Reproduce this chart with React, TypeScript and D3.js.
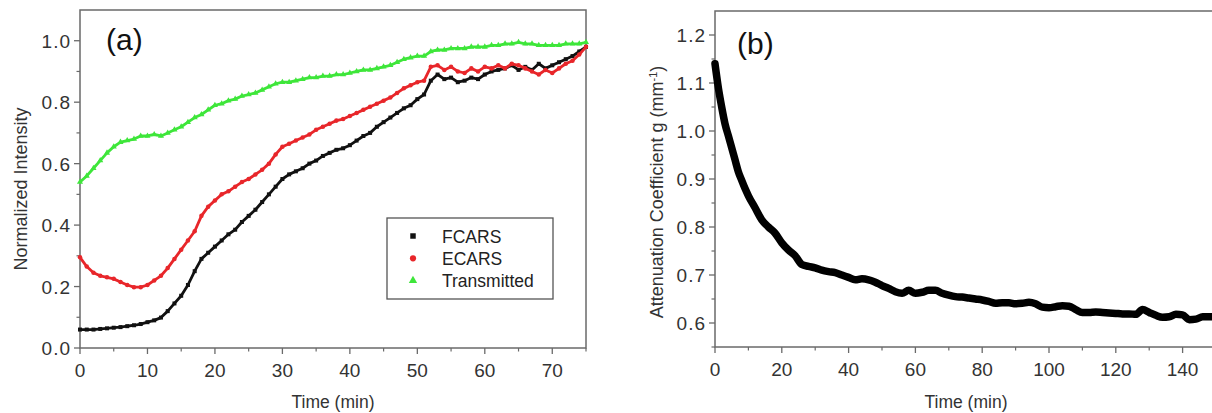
import React from "react";
import * as d3 from "d3";

// panel (a): time in minutes, one sample per minute
const timeA = [
  0, 1, 2, 3, 4, 5, 6, 7, 8, 9, 10, 11, 12, 13, 14, 15, 16, 17, 18, 19,
  20, 21, 22, 23, 24, 25, 26, 27, 28, 29, 30, 31, 32, 33, 34, 35, 36, 37, 38, 39,
  40, 41, 42, 43, 44, 45, 46, 47, 48, 49, 50, 51, 52, 53, 54, 55, 56, 57, 58, 59,
  60, 61, 62, 63, 64, 65, 66, 67, 68, 69, 70, 71, 72, 73, 74, 75,
];

const fcars = [
  0.06, 0.06, 0.06, 0.062, 0.064, 0.066, 0.068, 0.071, 0.074, 0.078, 0.084, 0.09, 0.099, 0.12, 0.145, 0.17, 0.205, 0.25, 0.29, 0.31,
  0.33, 0.35, 0.37, 0.385, 0.41, 0.43, 0.45, 0.475, 0.5, 0.525, 0.55, 0.565, 0.575, 0.585, 0.6, 0.61, 0.625, 0.635, 0.645, 0.65,
  0.66, 0.675, 0.69, 0.7, 0.72, 0.735, 0.75, 0.765, 0.78, 0.79, 0.81, 0.825, 0.87, 0.89, 0.875, 0.88, 0.865, 0.87, 0.88, 0.875,
  0.89, 0.9, 0.905, 0.91, 0.92, 0.905, 0.915, 0.905, 0.925, 0.91, 0.92, 0.93, 0.94, 0.95, 0.965, 0.98,
];

const ecars = [
  0.295, 0.265, 0.245, 0.235, 0.23, 0.225, 0.215, 0.205, 0.198, 0.198, 0.205, 0.22, 0.235, 0.26, 0.29, 0.32, 0.35, 0.38, 0.43, 0.46,
  0.48, 0.5, 0.51, 0.525, 0.54, 0.55, 0.565, 0.58, 0.6, 0.63, 0.655, 0.665, 0.675, 0.685, 0.695, 0.71, 0.72, 0.73, 0.74, 0.745,
  0.755, 0.765, 0.775, 0.785, 0.795, 0.805, 0.815, 0.83, 0.845, 0.855, 0.865, 0.87, 0.915, 0.92, 0.905, 0.915, 0.9, 0.895, 0.91, 0.9,
  0.915, 0.91, 0.92, 0.91, 0.925, 0.92, 0.91, 0.9, 0.89, 0.905, 0.895, 0.91, 0.925, 0.935, 0.955, 0.98,
];

const transmitted = [
  0.54, 0.56, 0.585, 0.61, 0.635, 0.655, 0.67, 0.675, 0.68, 0.69, 0.69, 0.695, 0.69, 0.7, 0.71, 0.72, 0.735, 0.75, 0.76, 0.775,
  0.79, 0.795, 0.805, 0.81, 0.82, 0.825, 0.83, 0.84, 0.85, 0.86, 0.865, 0.865, 0.87, 0.875, 0.88, 0.88, 0.885, 0.885, 0.89, 0.89,
  0.895, 0.9, 0.905, 0.905, 0.91, 0.915, 0.92, 0.93, 0.94, 0.945, 0.95, 0.95, 0.965, 0.97, 0.97, 0.975, 0.975, 0.975, 0.98, 0.98,
  0.98, 0.985, 0.985, 0.99, 0.99, 0.995, 0.99, 0.99, 0.985, 0.985, 0.985, 0.985, 0.99, 0.99, 0.99, 0.995,
];

// panel (b): attenuation coefficient
const timeB = [
  0, 1, 2, 3, 4, 5, 6, 7, 8, 9, 10, 12, 14, 16, 18, 20, 22, 24, 26, 28,
  30, 32, 34, 36, 38, 40, 42, 44, 46, 48, 50, 52, 54, 56, 58, 60, 62, 64, 66, 68,
  70, 72, 74, 76, 78, 80, 82, 84, 86, 88, 90, 92, 94, 96, 98, 100, 102, 104, 106, 108,
  110, 112, 114, 116, 118, 120, 122, 124, 126, 128, 130, 132, 134, 136, 138, 140, 142, 144, 146, 148, 150,
];

const attenuation = [
  1.14, 1.09, 1.05, 1.015, 0.99, 0.965, 0.94, 0.915, 0.897, 0.88, 0.865, 0.84, 0.815, 0.8, 0.787, 0.767, 0.752, 0.74, 0.722, 0.718,
  0.715, 0.71, 0.707, 0.705, 0.7, 0.695, 0.69, 0.692, 0.69, 0.685, 0.678, 0.672, 0.665, 0.662, 0.668, 0.662, 0.664, 0.668, 0.668, 0.662,
  0.658, 0.655, 0.654, 0.652, 0.65, 0.648, 0.645, 0.641, 0.642, 0.642, 0.64, 0.641, 0.643, 0.64, 0.633, 0.632, 0.634, 0.636, 0.635, 0.628,
  0.622, 0.622, 0.623, 0.622, 0.621, 0.62, 0.619, 0.619, 0.618, 0.628, 0.622, 0.616, 0.612, 0.613, 0.618, 0.617, 0.607, 0.608, 0.613, 0.613, 0.613,
];

const seriesA = [
  { name: "FCARS", values: fcars, color: "#111111", symbol: d3.symbolSquare },
  { name: "ECARS", values: ecars, color: "#e8262a", symbol: d3.symbolCircle },
  { name: "Transmitted", values: transmitted, color: "#3ee63a", symbol: d3.symbolTriangle },
];

const W = 1212;
const H = 413;
const FONT = "'Liberation Sans', Arial, Helvetica, sans-serif";
const AXIS = "#6a6a6a";
const TEXT = "#333333";

const Frame = ({ x, y, xMajor, xMinor, yMajor, yMinor, yFmt }) => {
  const [x0, x1] = x.range();
  const [y0, y1] = y.range();
  return (
    <g>
      <rect x={x0} y={y1} width={x1 - x0} height={y0 - y1} fill="none" stroke={AXIS} strokeWidth={1.5} />
      {xMajor.map((t) => (
        <g key={"xM" + t}>
          <line x1={x(t)} x2={x(t)} y1={y0} y2={y0 + 6} stroke={AXIS} strokeWidth={1.3} />
          <text x={x(t)} y={y0 + 29} textAnchor="middle" fontSize={19} fill={TEXT}>{t}</text>
        </g>
      ))}
      {xMinor.map((t) => (
        <line key={"xm" + t} x1={x(t)} x2={x(t)} y1={y0} y2={y0 + 3.5} stroke={AXIS} strokeWidth={1.2} />
      ))}
      {yMajor.map((v) => (
        <g key={"yM" + v}>
          <line x1={x0 - 6} x2={x0} y1={y(v)} y2={y(v)} stroke={AXIS} strokeWidth={1.3} />
          <text x={x0 - 9} y={y(v) + 7} textAnchor="end" fontSize={19} letterSpacing={1} fill={TEXT}>{yFmt(v)}</text>
        </g>
      ))}
      {yMinor.map((v) => (
        <line key={"ym" + v} x1={x0 - 3.5} x2={x0} y1={y(v)} y2={y(v)} stroke={AXIS} strokeWidth={1.2} />
      ))}
    </g>
  );
};

export default function App() {
  // panel (a)
  const xA = d3.scaleLinear().domain([0, 75]).range([80, 586]);
  const yA = d3.scaleLinear().domain([0, 1.1]).range([348, 10]);
  // panel (b)
  const xB = d3.scaleLinear().domain([0, 150]).range([715, 1216]);
  const yB = d3.scaleLinear().domain([0.55, 1.25]).range([347, 11]);

  const fmt1 = d3.format(".1f");

  const lineA = (vals) =>
    d3.line().x((_, i) => xA(timeA[i])).y((d) => yA(d))(vals);
  const lineB = d3.line().x((_, i) => xB(timeB[i])).y((d) => yB(d)).curve(d3.curveMonotoneX)(attenuation);

  return (
    <svg width={W} height={H} style={{ position: "absolute", left: 0, top: 0, background: "#fff" }} fontFamily={FONT}>
      <rect width={W} height={H} fill="#fff" />

      {/* ---------- panel (a) ---------- */}
      <Frame
        x={xA}
        y={yA}
        xMajor={d3.range(0, 71, 10)}
        xMinor={d3.range(5, 76, 10)}
        yMajor={[0, 0.2, 0.4, 0.6, 0.8, 1.0]}
        yMinor={[0.1, 0.3, 0.5, 0.7, 0.9]}
        yFmt={fmt1}
      />
      <g>
        {seriesA.map((s) => (
          <g key={s.name}>
            <path d={lineA(s.values)} fill="none" stroke={s.color} strokeWidth={2.8} strokeLinejoin="round" />
            {s.values.map((v, i) => (
              <path
                key={i}
                transform={`translate(${xA(timeA[i])},${yA(v)})`}
                d={d3.symbol().type(s.symbol).size(16)()}
                fill={s.color}
              />
            ))}
          </g>
        ))}
      </g>
      <text x={106} y={50} fontSize={30} fill="#111">(a)</text>

      {/* legend */}
      <rect x={387} y={218} width={166} height={81} fill="#fff" stroke="#555" strokeWidth={1.3} />
      {seriesA.map((s, i) => (
        <g key={"lg" + s.name} transform={`translate(0,${236 + i * 22.3})`}>
          <path transform="translate(413,0)" d={d3.symbol().type(s.symbol).size(30)()} fill={s.color} />
          <text x={442} y={6.5} fontSize={17.5} fill="#222">{s.name}</text>
        </g>
      ))}

      <text x={333} y={408} textAnchor="middle" fontSize={17.5} fill={TEXT}>Time (min)</text>
      <text
        transform="translate(27,189) rotate(-90)"
        textAnchor="middle"
        fontSize={18}
        fill={TEXT}
      >
        Normalized Intensity
      </text>

      {/* ---------- panel (b) ---------- */}
      <Frame
        x={xB}
        y={yB}
        xMajor={d3.range(0, 141, 20)}
        xMinor={d3.range(10, 151, 20)}
        yMajor={[0.6, 0.7, 0.8, 0.9, 1.0, 1.1, 1.2]}
        yMinor={[0.55, 0.65, 0.75, 0.85, 0.95, 1.05, 1.15]}
        yFmt={fmt1}
      />
      <path d={lineB} fill="none" stroke="#000" strokeWidth={7.5} strokeLinejoin="round" strokeLinecap="round" />
      <text x={737} y={54} fontSize={30} fill="#111">(b)</text>

      <text x={966} y={408} textAnchor="middle" fontSize={17.5} fill={TEXT}>Time (min)</text>
      <text
        transform="translate(663,192) rotate(-90)"
        textAnchor="middle"
        fontSize={18}
        fill={TEXT}
      >
        Attenuation Coefficient g (mm
        <tspan dy={-6} fontSize={11}>-1</tspan>
        <tspan dy={6}>)</tspan>
      </text>
    </svg>
  );
}
